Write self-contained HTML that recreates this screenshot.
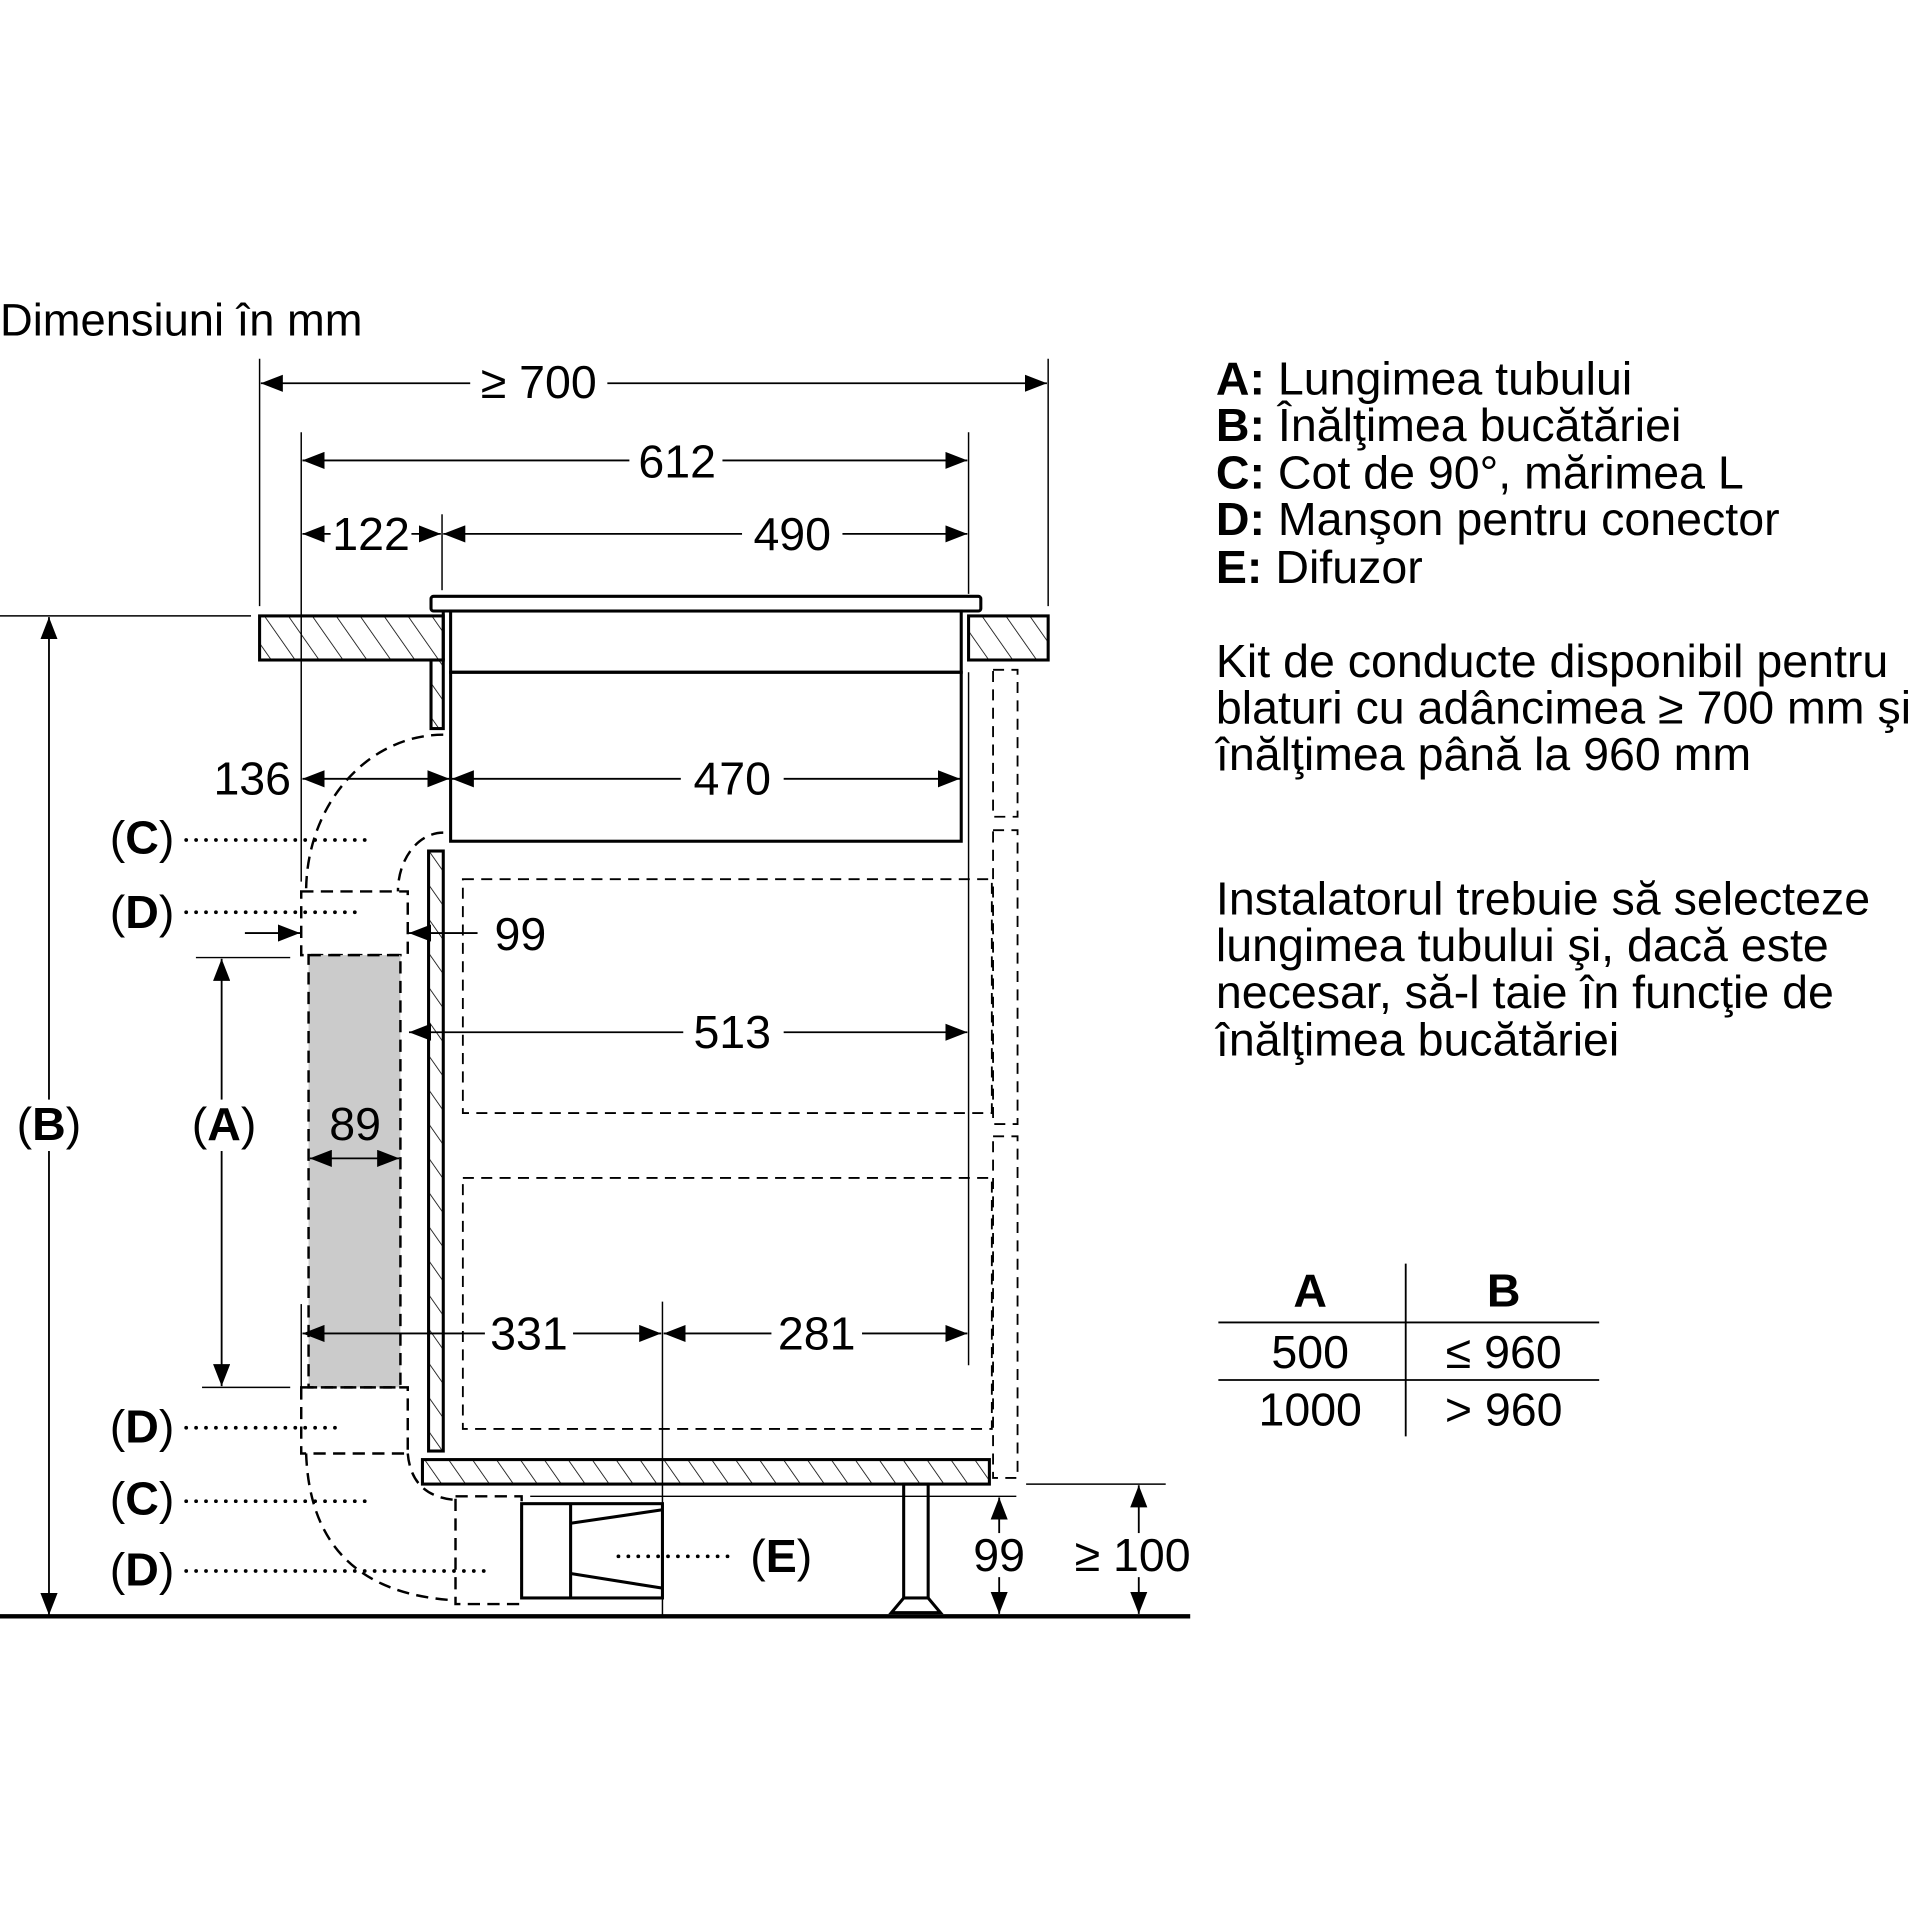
<!DOCTYPE html>
<html><head><meta charset="utf-8"><style>html,body{margin:0;padding:0;background:#fff}svg{display:block}</style></head>
<body>
<svg width="1920" height="1920" viewBox="0 0 1568 1568" xmlns="http://www.w3.org/2000/svg" font-family="Liberation Sans, sans-serif">
<defs>
<marker id="a" markerWidth="18" markerHeight="14" refX="18" refY="7" orient="auto-start-reverse" markerUnits="userSpaceOnUse"><path d="M0,0 L18,7 L0,14 Z" fill="#000"/></marker>
<pattern id="h" patternUnits="userSpaceOnUse" width="16" height="16" patternTransform="rotate(-35)"><line x1="0" y1="0" x2="0" y2="16" stroke="#000" stroke-width="1.3"/></pattern>
</defs>
<g fill="none" stroke="#000">
<g stroke-width="2" stroke-dasharray="10,6">
<path d="M362,600 A112,128 0 0 0 250,728"/>
<path d="M362,680 A37,48 0 0 0 325,728"/>
<rect x="246" y="728" width="87" height="52"/>
<rect x="252" y="780" width="75" height="353" fill="#cbcbcb"/>
<rect x="246" y="1133" width="87" height="54"/>
<path d="M250,1187 Q254,1300 372,1307"/>
<path d="M333,1187 Q336,1222 372,1225"/>
<rect x="372" y="1222" width="54" height="88"/>
</g>
<g stroke-width="1.2">
<line x1="212" y1="293" x2="212" y2="495"/><line x1="856" y1="293" x2="856" y2="495"/>
<line x1="246" y1="353" x2="246" y2="720"/><line x1="791" y1="353" x2="791" y2="485"/>
<line x1="361" y1="420" x2="361" y2="482"/>
<line x1="0" y1="503" x2="205" y2="503"/>
<line x1="791" y1="549" x2="791" y2="1115"/>
<line x1="541" y1="1063" x2="541" y2="1320"/>
<line x1="246" y1="1065" x2="246" y2="1135"/>
<line x1="160" y1="782" x2="237" y2="782"/><line x1="165" y1="1133" x2="237" y2="1133"/>
<line x1="433" y1="1222" x2="830" y2="1222"/><line x1="838" y1="1212" x2="952" y2="1212"/>
</g>
<g stroke-width="1.5" marker-start="url(#a)" marker-end="url(#a)">
<line x1="213" y1="313" x2="855" y2="313"/>
<line x1="247" y1="376" x2="790" y2="376"/>
<line x1="247" y1="436" x2="360" y2="436"/>
<line x1="362" y1="436" x2="790" y2="436"/>
<line x1="40" y1="504" x2="40" y2="1319"/>
<line x1="247" y1="636" x2="367" y2="636"/>
<line x1="369" y1="636" x2="784" y2="636"/>
<line x1="181" y1="783" x2="181" y2="1132"/>
<line x1="253" y1="946" x2="326" y2="946"/>
<line x1="334" y1="843" x2="790" y2="843"/>
<line x1="247" y1="1089" x2="540" y2="1089"/>
<line x1="542" y1="1089" x2="790" y2="1089"/>
<line x1="816" y1="1223" x2="816" y2="1318"/>
<line x1="930" y1="1213" x2="930" y2="1318"/>
</g>
<g stroke-width="1.5">
<line x1="200" y1="762" x2="245" y2="762" marker-end="url(#a)"/>
<line x1="390" y1="762" x2="334" y2="762" marker-end="url(#a)"/>
</g>
<g stroke-width="2.5">
<rect x="212" y="503" width="150" height="36" fill="url(#h)"/>
<rect x="791" y="503" width="65" height="36" fill="url(#h)"/>
<rect x="352" y="487" width="449" height="12" rx="2" fill="#fff"/>
<rect x="368" y="499" width="417" height="50"/>
<rect x="368" y="549" width="417" height="138"/>
<line x1="362" y1="499" x2="362" y2="539"/>
<rect x="352" y="539" width="10" height="56" fill="url(#h)"/>
<rect x="350" y="695" width="12" height="490" fill="url(#h)"/>
<rect x="345" y="1192" width="463" height="20" fill="url(#h)"/>
</g>
<g stroke-width="1.5" stroke-dasharray="9,6">
<rect x="378" y="718" width="432" height="191"/>
<rect x="378" y="962" width="432" height="205"/>
<rect x="811" y="547" width="20" height="120"/>
<rect x="811" y="678" width="20" height="240"/>
<rect x="811" y="928" width="20" height="279"/>
</g>
<g stroke-width="2.5">
<rect x="426" y="1228" width="115" height="77"/>
<line x1="466" y1="1228" x2="466" y2="1305"/>
<line x1="466" y1="1244" x2="541" y2="1233"/>
<line x1="466" y1="1285" x2="541" y2="1297"/>
<rect x="738" y="1212" width="20" height="93"/>
<path d="M738,1305 L728,1317 L768,1317 L758,1305"/>
<line x1="0" y1="1320" x2="972" y2="1320" stroke-width="3.5"/>
</g>
<g stroke-width="3" stroke-dasharray="0.1,8" stroke-linecap="round">
<line x1="152" y1="686" x2="300" y2="686"/>
<line x1="152" y1="745" x2="290" y2="745"/>
<line x1="152" y1="1166" x2="280" y2="1166"/>
<line x1="152" y1="1226" x2="300" y2="1226"/>
<line x1="152" y1="1283" x2="398" y2="1283"/>
<line x1="505" y1="1271" x2="602" y2="1271"/>
</g>
<g stroke-width="1.5">
<line x1="995" y1="1080" x2="1306" y2="1080"/><line x1="995" y1="1127" x2="1306" y2="1127"/>
<line x1="1148" y1="1032" x2="1148" y2="1173"/>
</g>
</g>
<g fill="#000" font-size="38">
<text x="0" y="274" font-size="37">Dimensiuni în mm</text>
<g text-anchor="middle">
<rect x="384" y="295" width="112" height="36" fill="#fff"/>
<text x="440" y="325">≥ 700</text>
<rect x="514" y="358" width="76" height="36" fill="#fff"/>
<text x="553" y="390">612</text>
<rect x="270" y="418" width="66" height="36" fill="#fff"/>
<text x="303" y="449">122</text>
<rect x="606" y="418" width="82" height="36" fill="#fff"/>
<text x="647" y="449">490</text>
<text x="206" y="649">136</text>
<rect x="556" y="618" width="84" height="36" fill="#fff"/>
<text x="598" y="649">470</text>
<text x="425" y="776">99</text>
<rect x="558" y="825" width="82" height="36" fill="#fff"/>
<text x="598" y="856">513</text>
<text x="290" y="931">89</text>
<rect x="396" y="1071" width="72" height="36" fill="#fff"/>
<text x="432" y="1102">331</text>
<rect x="630" y="1071" width="74" height="36" fill="#fff"/>
<text x="667" y="1102">281</text>
<rect x="794" y="1252" width="44" height="36" fill="#fff"/>
<text x="816" y="1283">99</text>
<rect x="876" y="1252" width="98" height="36" fill="#fff"/>
<text x="925" y="1283">≥ 100</text>
<rect x="12" y="898" width="56" height="42" fill="#fff"/>
<text x="40" y="931">(<tspan font-weight="bold">B</tspan>)</text>
<rect x="154" y="898" width="58" height="42" fill="#fff"/>
<text x="183" y="931">(<tspan font-weight="bold">A</tspan>)</text>
<text x="116" y="697">(<tspan font-weight="bold">C</tspan>)</text>
<text x="116" y="758">(<tspan font-weight="bold">D</tspan>)</text>
<text x="116" y="1178">(<tspan font-weight="bold">D</tspan>)</text>
<text x="116" y="1237">(<tspan font-weight="bold">C</tspan>)</text>
<text x="116" y="1295">(<tspan font-weight="bold">D</tspan>)</text>
<text x="638" y="1284">(<tspan font-weight="bold">E</tspan>)</text>
<text x="1070" y="1067" font-weight="bold">A</text>
<text x="1228" y="1067" font-weight="bold">B</text>
<text x="1070" y="1117">500</text>
<text x="1228" y="1117">≤ 960</text>
<text x="1070" y="1164">1000</text>
<text x="1228" y="1164">&gt; 960</text>
</g>
<g font-size="38">
<text x="993" y="322"><tspan font-weight="bold">A:</tspan> Lungimea tubului</text>
<text x="993" y="360"><tspan font-weight="bold">B:</tspan> Înălţimea bucătăriei</text>
<text x="993" y="399"><tspan font-weight="bold">C:</tspan> Cot de 90°, mărimea L</text>
<text x="993" y="437"><tspan font-weight="bold">D:</tspan> Manşon pentru conector</text>
<text x="993" y="476"><tspan font-weight="bold">E:</tspan> Difuzor</text>
<text x="993" y="553">Kit de conducte disponibil pentru</text>
<text x="993" y="591">blaturi cu adâncimea ≥ 700 mm şi</text>
<text x="993" y="629">înălţimea până la 960 mm</text>
<text x="993" y="747">Instalatorul trebuie să selecteze</text>
<text x="993" y="785">lungimea tubului şi, dacă este</text>
<text x="993" y="823">necesar, să-l taie în funcţie de</text>
<text x="993" y="862">înălţimea bucătăriei</text>
</g>
</g>
</svg>
</body></html>
